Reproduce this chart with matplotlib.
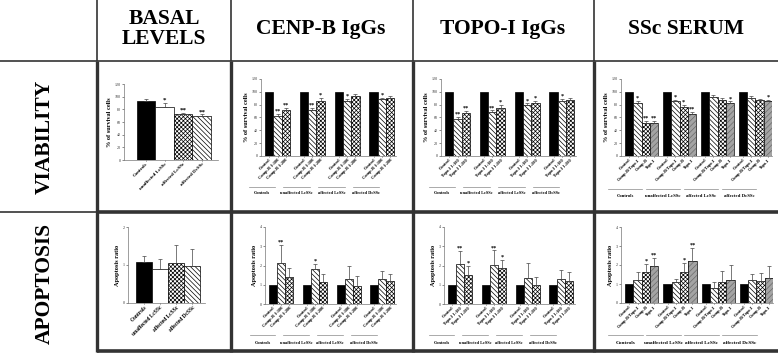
import numpy as np
import matplotlib.pyplot as plt
import matplotlib.transforms as mtransforms
from matplotlib.lines import Line2D

plt.rcParams['font.family'] = ['Liberation Serif', 'DejaVu Serif']
plt.rcParams['hatch.linewidth'] = 0.5

# -----------------------------------
# DATA
# -----------------------------------

col_titles = ["BASAL\nLEVELS", "CENP-B IgGs", "TOPO-I IgGs", "SSc SERUM"]
row_titles = ["VIABILITY", "APOPTOSIS"]

groups = ["Controls", "unaffected LcSSc", "affected LcSSc", "affected DcSSc"]

basal_viab = [93, 84, 72, 70]
basal_viab_err = [3, 6, 3, 2]
basal_viab_sig = ["", "*", "**", "**"]

basal_apop = [1.07, 0.89, 1.05, 0.97]
basal_apop_err = [0.18, 0.26, 0.48, 0.46]
basal_apop_sig = ["", "", "", ""]

cenp_labels = ["Control", "Comp-B 1:100", "Comp-B 1:200"]
cenp_viab = [[100, 62, 71], [100, 72, 86], [100, 86, 93], [100, 89, 91]]
cenp_viab_err = [[0, 4, 4], [0, 3, 4], [0, 3, 3], [0, 2, 3]]
cenp_viab_sig = [["", "**", "**"], ["", "**", "*"], ["", "*", ""], ["", "*", ""]]
cenp_apop = [[1, 2.12, 1.40], [1, 1.80, 1.13], [1, 1.28, 0.96], [1, 1.28, 1.20]]
cenp_apop_err = [[0, 0.95, 0.45], [0, 0.30, 0.45], [0, 0.68, 0.48], [0, 0.42, 0.38]]
cenp_apop_sig = [["", "**", ""], ["", "*", ""], ["", "", ""], ["", "", ""]]

topo_labels = ["Control", "Topo-I 1:100", "Topo-I 1:200"]
topo_viab = [[100, 57, 67], [100, 68, 75], [100, 79, 83], [100, 85, 88]]
topo_viab_err = [[0, 4, 3], [0, 3, 4], [0, 3, 3], [0, 4, 2]]
topo_viab_sig = [["", "**", "**"], ["", "**", "*"], ["", "*", "*"], ["", "*", ""]]
topo_apop = [[1, 2.07, 1.52], [1, 2.03, 1.88], [1, 1.35, 1.00], [1, 1.30, 1.18]]
topo_apop_err = [[0, 0.68, 0.45], [0, 0.75, 0.42], [0, 0.78, 0.42], [0, 0.45, 0.48]]
topo_apop_sig = [["", "**", "*"], ["", "**", "*"], ["", "", ""], ["", "", ""]]

ssc_labels = ["Control", "Comp-B/Topo-I", "Comp-B", "Topo-I"]
ssc_viab = [[100, 82, 51, 52], [100, 85, 76, 66], [100, 92, 88, 83], [100, 91, 87, 85]]
ssc_viab_err = [[0, 4, 3, 3], [0, 3, 3, 3], [0, 3, 2, 2], [0, 3, 2, 2]]
ssc_viab_sig = [["", "*", "**", "**"], ["", "*", "*", "**"], ["", "", "", "*"], ["", "", "", "*"]]
ssc_apop = [[1, 1.20, 1.65, 1.95], [1, 1.10, 1.62, 2.22], [1, 0.78, 1.12, 1.20], [1, 1.22, 1.15, 1.32]]
ssc_apop_err = [[0, 0.45, 0.42, 0.42], [0, 0.18, 0.50, 0.70], [0, 0.35, 0.58, 0.78], [0, 0.32, 0.45, 0.65]]
ssc_apop_sig = [["", "", "*", "**"], ["", "", "*", "**"], ["", "", "", ""], ["", "", "", ""]]

# -----------------------------------
# STYLES / LAYOUT
# -----------------------------------

W, H = 778, 354

STYLES = {
    "black": dict(color="black", hatch=None),
    "white": dict(color="white", hatch=None),
    "diag": dict(color="white", hatch="\\\\\\\\\\\\\\"),
    "check": dict(color="white", hatch="xxxxxxxx"),
    "gray": dict(color="#a4a4a4", hatch="//////"),
}

fig = plt.figure(figsize=(W / 100, H / 100), dpi=100)


def px_axes(left, right, top, bottom):
    return fig.add_axes([left / W, 1 - bottom / H, (right - left) / W, (bottom - top) / H])


def fig_line(x0, x1, y0, y1, lw, color="#333333"):
    fig.add_artist(Line2D([x0 / W, x1 / W], [1 - y0 / H, 1 - y1 / H],
                          transform=fig.transFigure, lw=lw, color=color,
                          solid_capstyle="butt"))


def draw_bar(ax, x, v, style, width=1.0):
    st = STYLES[style]
    if style == "gray":
        ax.bar(x, v, width, color=st["color"], edgecolor="#6a6a6a",
               hatch=st["hatch"], linewidth=0)
        ax.bar(x, v, width, fill=False, edgecolor="black", linewidth=0.5)
    else:
        ax.bar(x, v, width, color=st["color"], edgecolor="black",
               hatch=st["hatch"], linewidth=0.5)


def style_axes(ax, ylim, yticks, ylabel, ylabel_fs):
    ax.set_ylim(*ylim)
    ax.set_yticks(yticks)
    for s in ["top", "right"]:
        ax.spines[s].set_visible(False)
    for s in ["left", "bottom"]:
        ax.spines[s].set_linewidth(0.5)
        ax.spines[s].set_color("#777777")
    ax.tick_params(axis="y", labelsize=3, length=1.5, width=0.4, pad=1, colors="#333333")
    ax.tick_params(axis="x", length=1, width=0.4, pad=0.5)
    ax.set_ylabel(ylabel, fontsize=ylabel_fs, fontweight="bold", labelpad=2)
    ax.patch.set_alpha(0)


def add_sig(ax, x, top, sig, fs=5):
    if sig:
        ax.annotate(sig, (x, top), xytext=(0, 0.2), textcoords="offset points",
                    ha="center", va="bottom", fontsize=fs, fontweight="bold")


def basal_chart(ax, vals, errs, sigs, ylim, yticks, ylabel, ylabel_fs, xlim, tick_fs):
    styles = ["black", "white", "check", "diag"]
    xs = np.arange(len(vals))
    for x, v, e, st, sg in zip(xs, vals, errs, styles, sigs):
        draw_bar(ax, x, v, st)
        ax.errorbar(x, v, yerr=[[0], [e]], fmt="none", ecolor="#444444",
                    elinewidth=0.5, capsize=1.5, capthick=0.5)
        add_sig(ax, x, v + e, sg)
    ax.set_xlim(*xlim)
    ax.set_xticks(xs)
    ax.set_xticklabels(groups, rotation=45, ha="right", rotation_mode="anchor",
                       fontsize=tick_fs, fontweight="bold")
    style_axes(ax, ylim, yticks, ylabel, ylabel_fs)


def grouped_chart(ax, vals, errs, sigs, labels, styles, gap, xlim, ylim, yticks,
                  ylabel, ylabel_fs, line_y, text_y, line_off, line_half, group_fs):
    n = len(styles)
    xs_all, labs_all = [], []
    for g in range(len(vals)):
        for j in range(n):
            x = g * gap + j
            v = vals[g][j]
            e = errs[g][j]
            draw_bar(ax, x, v, styles[j])
            if e > 0:
                ax.errorbar(x, v, yerr=[[0], [e]], fmt="none", ecolor="#444444",
                            elinewidth=0.5, capsize=1.2, capthick=0.5)
            add_sig(ax, x, v + e, sigs[g][j], fs=4.5)
            xs_all.append(x)
            labs_all.append(labels[j])
    ax.set_xlim(*xlim)
    ax.set_xticks(xs_all)
    ax.set_xticklabels(labs_all, rotation=45, ha="right", rotation_mode="anchor",
                       fontsize=3.2, fontweight="bold")
    style_axes(ax, ylim, yticks, ylabel, ylabel_fs)

    trans = mtransforms.blended_transform_factory(ax.transData, fig.transFigure)
    for g, name in enumerate(groups):
        c = g * gap + (n - 1) / 2 + line_off
        ax.add_line(Line2D([c - line_half, c + line_half], [1 - line_y / H] * 2,
                           transform=trans, lw=0.5, color="#888888", clip_on=False))
        ax.text(c, 1 - text_y / H, name, transform=trans, ha="center", va="center",
                fontsize=group_fs, fontweight="bold")


# -----------------------------------
# TABLE FRAME
# -----------------------------------

fig_line(0, W, 61, 61, 1.2)
for xv in [97, 231, 413, 594]:
    fig_line(xv, xv, 0, 61, 1.2)
    fig_line(xv, xv, 61, 352, 2.4)
fig_line(0, 97, 212, 212, 1.2)
fig_line(97, W, 212, 212, 2.6)
fig_line(97, W, 351, 351, 2.6)

col_centers = [164, 321, 503, 686]
for cx, t in zip(col_centers, col_titles):
    fig.text(cx / W, 1 - 29 / H, t, ha="center", va="center", fontsize=15.5,
             fontweight="bold", linespacing=1.0)

for cy, t in zip([137, 284], row_titles):
    fig.text(45 / W, 1 - cy / H, t, ha="center", va="center", rotation=90,
             fontsize=15.5, fontweight="bold")

# -----------------------------------
# VIABILITY ROW
# -----------------------------------

ax = px_axes(124, 218, 84, 160)
basal_chart(ax, basal_viab, basal_viab_err, basal_viab_sig, (0, 120),
            range(0, 121, 20), "% of survival cells", 4.5, (-1.2, 3.88), 3.6)

ax = px_axes(261, 396, 79, 156)
grouped_chart(ax, cenp_viab, cenp_viab_err, cenp_viab_sig, cenp_labels,
              ["black", "diag", "check"], 4.2, (-1.0, 15.3), (0, 120),
              range(0, 121, 20), "% of survival cells", 4.5, 187, 193.5, -1.9, 1.6, 3.2)

ax = px_axes(441, 576, 79, 156)
grouped_chart(ax, topo_viab, topo_viab_err, topo_viab_sig, topo_labels,
              ["black", "diag", "check"], 4.2, (-1.0, 15.3), (0, 120),
              range(0, 121, 20), "% of survival cells", 4.5, 187, 193.5, -1.9, 1.6, 3.2)

ax = px_axes(621, 772, 79, 156)
grouped_chart(ax, ssc_viab, ssc_viab_err, ssc_viab_sig, ssc_labels,
              ["black", "diag", "check", "gray"], 4.6, (-1.0, 17.3), (0, 120),
              range(0, 121, 20), "% of survival cells", 4.5, 189, 195.5, -2.0, 2.1, 3.4)

# -----------------------------------
# APOPTOSIS ROW
# -----------------------------------

ax = px_axes(128, 205, 227, 303)
basal_chart(ax, basal_apop, basal_apop_err, basal_apop_sig, (0, 2),
            [0, 1, 2], "Apoptosis ratio", 4.5, (-1.0, 3.8), 4.0)

ax = px_axes(265, 396, 227, 304)
grouped_chart(ax, cenp_apop, cenp_apop_err, cenp_apop_sig, cenp_labels,
              ["black", "diag", "check"], 4.2, (-1.0, 15.3), (0, 4),
              [0, 1, 2, 3, 4], "Apoptosis ratio", 4.5, 335, 342.5, -2.3, 1.6, 3.2)

ax = px_axes(444, 575, 227, 304)
grouped_chart(ax, topo_apop, topo_apop_err, topo_apop_sig, topo_labels,
              ["black", "diag", "check"], 4.2, (-1.0, 15.3), (0, 4),
              [0, 1, 2, 3, 4], "Apoptosis ratio", 4.5, 335, 342.5, -2.3, 1.6, 3.2)

ax = px_axes(621, 773, 227, 303)
grouped_chart(ax, ssc_apop, ssc_apop_err, ssc_apop_sig, ssc_labels,
              ["black", "diag", "check", "gray"], 4.6, (-1.0, 17.3), (0, 4),
              [0, 1, 2, 3, 4], "Apoptosis ratio", 4.5, 335, 343, -2.0, 2.1, 3.8)

fig.savefig("out.png", dpi=100)
plt.close(fig)
